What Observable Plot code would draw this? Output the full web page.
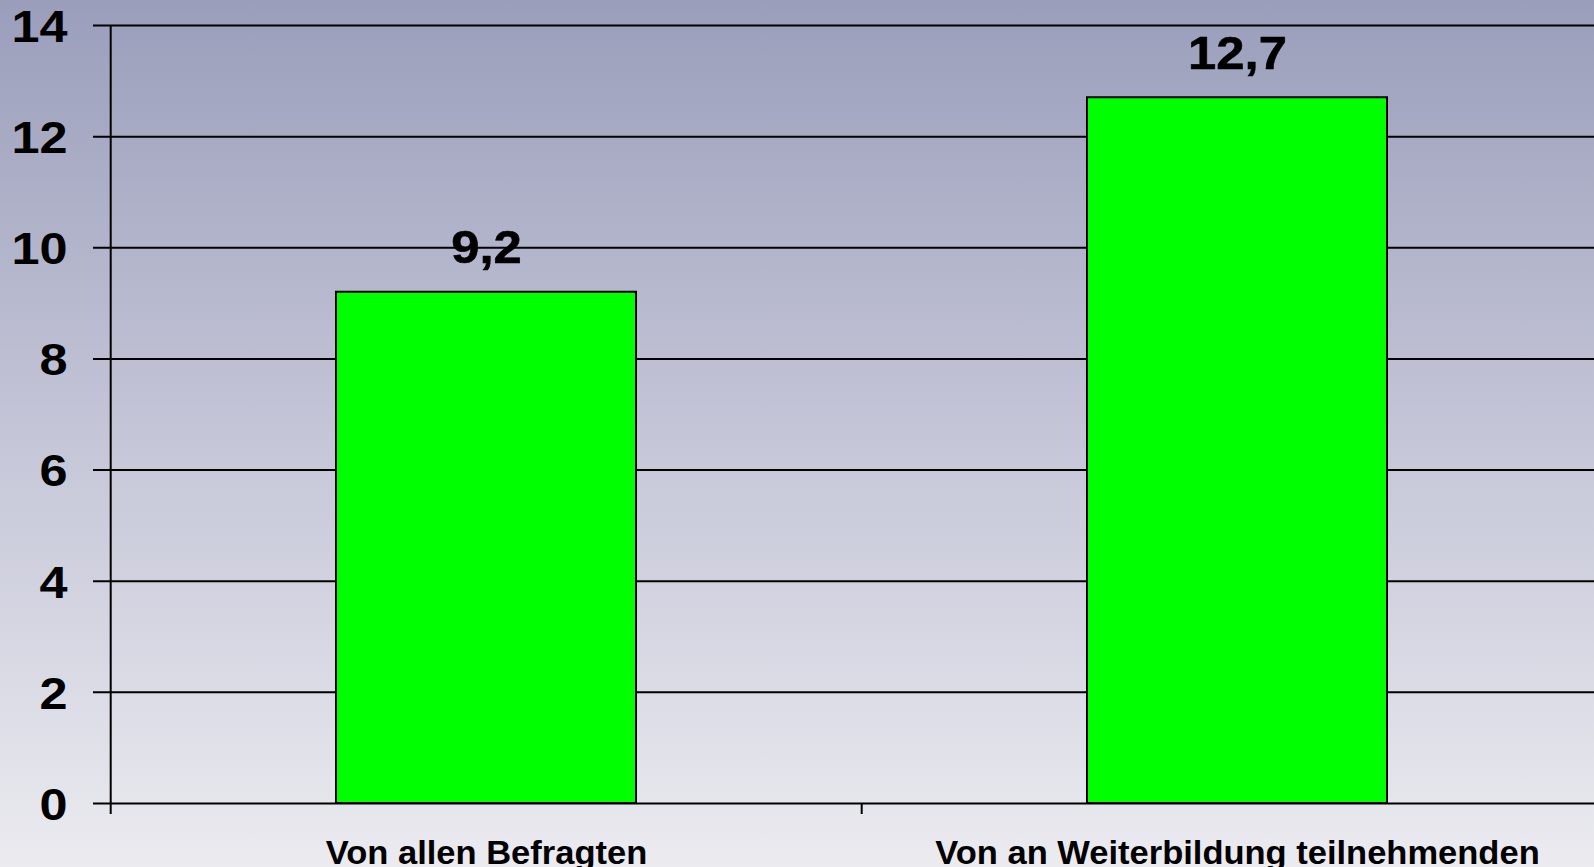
<!DOCTYPE html>
<html>
<head>
<meta charset="utf-8">
<script src="https://cdn.jsdelivr.net/npm/d3@7"></script>
<script src="https://cdn.jsdelivr.net/npm/@observablehq/plot@0.6"></script>
<style>
  html, body { margin: 0; padding: 0; width: 1594px; height: 867px; overflow: hidden; }
  body { background: linear-gradient(to bottom, #9b9ebb 0%, #c4c5d7 50%, #ebebf0 100%); font-family: "Liberation Sans", Arial, sans-serif; }
  #chart svg { display: block; }
</style>
</head>
<body>
<div id="chart"></div>
<script>
const categories = ["Von allen Befragten", "Von an Weiterbildung teilnehmenden"];
const values = [9.2, 12.7];
const valueLabels = ["9,2", "12,7"];
const yTicks = [0, 2, 4, 6, 8, 10, 12, 14];

const data = categories.map((c, i) => ({cat: c, value: values[i], label: valueLabels[i]}));

const paddingInner = 0.6, paddingOuter = 0.3;

function categoryLines(index, scales, vals, dimensions) {
  const x = scales.x, y = scales.y;
  const step = x(categories[1]) - x(categories[0]);
  const bounds = categories.map(c => x(c) - paddingOuter * step);
  bounds.push(x(categories[categories.length - 1]) + step * (1 - paddingOuter));
  const y0 = y(0), yTop = y(d3.max(yTicks));
  const g = d3.create("svg:g").attr("stroke", "#000").attr("stroke-width", 2);
  g.append("line").attr("x1", bounds[0]).attr("x2", bounds[0]).attr("y1", yTop).attr("y2", y0 + 11);
  bounds.slice(1).forEach(b => {
    g.append("line").attr("x1", b).attr("x2", b).attr("y1", y0).attr("y2", y0 + 11);
  });
  return g.node();
}

const chart = Plot.plot({
  width: 1594,
  height: 867,
  marginTop: 25,
  marginBottom: 64,
  marginLeft: 93,
  marginRight: 0,
  style: {background: "transparent", overflow: "visible", fontFamily: "'Liberation Sans', Arial, sans-serif", color: "#000"},
  x: {domain: categories, range: [111, 1613], paddingInner, paddingOuter, label: null},
  y: {domain: [0, 14], label: null},
  marks: [
    Plot.ruleY(yTicks, {stroke: "#000", strokeWidth: 2, strokeOpacity: 1}),
    Plot.barY(data, {x: "cat", y: "value", fill: "#00ff00", stroke: "#000", strokeWidth: 2}),
    Plot.text(data, {x: "cat", y: "value", text: "label", dy: -44, fontSize: 47, fontWeight: "bold", fill: "#000", stroke: "#000", strokeWidth: 0.6}),
    Plot.axisY({ticks: yTicks, tickSize: 0, tickPadding: 26, dy: 2, fontSize: 45, fontWeight: "bold", label: null, tickFormat: d => String(d), fill: "#000", stroke: "#000", strokeWidth: 0.6}),
    Plot.axisX({tickSize: 0, tickPadding: 37, fontSize: 33.5, fontWeight: "bold", label: null, fill: "#000", stroke: "#000", strokeWidth: 0.4}),
    categoryLines
  ]
});

function stretch(selector, s) {
  d3.select(chart).selectAll(selector).each(function() {
    const el = d3.select(this);
    const t = el.attr("transform");
    if (t) {
      el.attr("transform", t + ` scale(${s},1)`);
    } else {
      const x = +el.attr("x") || 0, y = +el.attr("y") || 0;
      el.attr("x", null).attr("y", null).attr("transform", `translate(${x},${y}) scale(${s},1)`);
    }
  });
}
stretch("g[aria-label='y-axis tick label'] text", 1.12);
stretch("g[aria-label='x-axis tick label'] text", 1.03);
stretch("g[aria-label='text'] text", 1.08);

document.getElementById("chart").appendChild(chart);
</script>
</body>
</html>
